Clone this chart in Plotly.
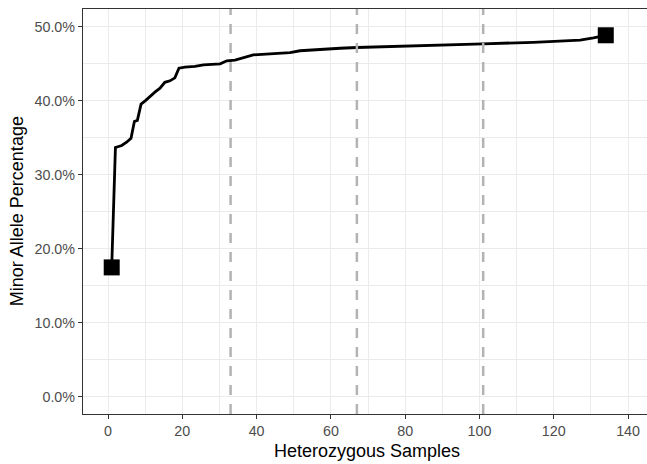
import plotly.graph_objects as go

# Sample index (heterozygous samples, sorted) and minor allele percentage
samples = [1, 2, 3.7, 5.0, 6.2, 7.1, 7.9, 8.9, 10, 11.3, 12.7, 14, 15.3, 16.7, 18, 19.1,
           20.7, 23.4, 25.7, 30.2, 32, 34.2, 36.4, 39.1, 43.6, 49, 51.7, 57.1, 62.5, 67,
           75, 84, 101, 114.5, 123, 127.1, 130.7, 134]
minor_pct = [17.5, 33.7, 33.96, 34.4, 34.95, 37.2, 37.35, 39.55, 40.0, 40.6, 41.2, 41.7, 42.5,
             42.7, 43.1, 44.4, 44.55, 44.64, 44.86, 45.0, 45.4, 45.5, 45.86, 46.2, 46.35, 46.5,
             46.76, 46.98, 47.1, 47.2, 47.3, 47.47, 47.7, 47.9, 48.05, 48.2, 48.5, 48.85]
end_samples = [1, 134]
end_pct = [17.5, 48.85]
quartile_lines = [33, 67, 101]

x_ticks = [0, 20, 40, 60, 80, 100, 120, 140]
y_ticks = [0, 10, 20, 30, 40, 50]
y_ticklabels = ["0.0%", "10.0%", "20.0%", "30.0%", "40.0%", "50.0%"]
x_title = "Heterozygous Samples"
y_title = "Minor Allele Percentage"

fig = go.Figure()
fig.add_trace(go.Scatter(x=samples, y=minor_pct, mode="lines",
                         line=dict(color="black", width=2.8), hoverinfo="skip"))
fig.add_trace(go.Scatter(x=end_samples, y=end_pct, mode="markers",
                         marker=dict(symbol="square", size=16, color="black"), hoverinfo="skip"))
for v in quartile_lines:
    fig.add_shape(type="line", x0=v, x1=v, y0=0, y1=1, xref="x", yref="paper",
                  line=dict(color="#b3b3b3", width=2.5, dash="10px,9px"), layer="above")

fig.add_annotation(text=x_title, xref="paper", yref="paper", x=(367 - 83) / 564, y=(414 - 451) / 405,
                   xanchor="center", yanchor="middle", showarrow=False,
                   font=dict(size=18, color="black"))
fig.add_annotation(text=y_title, xref="paper", yref="paper", x=(16.7 - 83) / 564, y=0.5,
                   xanchor="center", yanchor="middle", showarrow=False, textangle=-90,
                   font=dict(size=18, color="black"))

grid = "#ebebeb"
fig.update_layout(
    width=647, height=464,
    margin=dict(l=83, r=0, t=9, b=50),
    plot_bgcolor="white", paper_bgcolor="white",
    showlegend=False,
    font=dict(family="Liberation Sans, Arial, sans-serif", color="#4d4d4d"),
    xaxis=dict(
        range=[-6.73, 145.1], tickvals=x_ticks, ticks="outside", ticklen=4, tickwidth=1,
        tickcolor="#333333", tickfont=dict(size=14.3, color="#4d4d4d"),
        showgrid=True, gridcolor=grid, gridwidth=1.3, zeroline=False, automargin=False,
        showline=True, linecolor="#333333", linewidth=1.2, mirror=True,
        minor=dict(tickvals=[10, 30, 50, 70, 90, 110, 130], showgrid=True, gridcolor=grid, gridwidth=0.7),
    ),
    yaxis=dict(
        range=[-2.3, 52.4], tickvals=y_ticks, ticktext=y_ticklabels, ticks="outside", ticklen=4,
        tickwidth=1, tickcolor="#333333", tickfont=dict(size=14.3, color="#4d4d4d"),
        showgrid=True, gridcolor=grid, gridwidth=1.3, zeroline=False, automargin=False,
        showline=True, linecolor="#333333", linewidth=1.2, mirror=False,
        minor=dict(tickvals=[5, 15, 25, 35, 45], showgrid=True, gridcolor=grid, gridwidth=0.7),
    ),
)
fig.write_html("out.html", config={"displayModeBar": False},
               post_script="document.body.style.margin='0';document.body.style.overflow='hidden';")
